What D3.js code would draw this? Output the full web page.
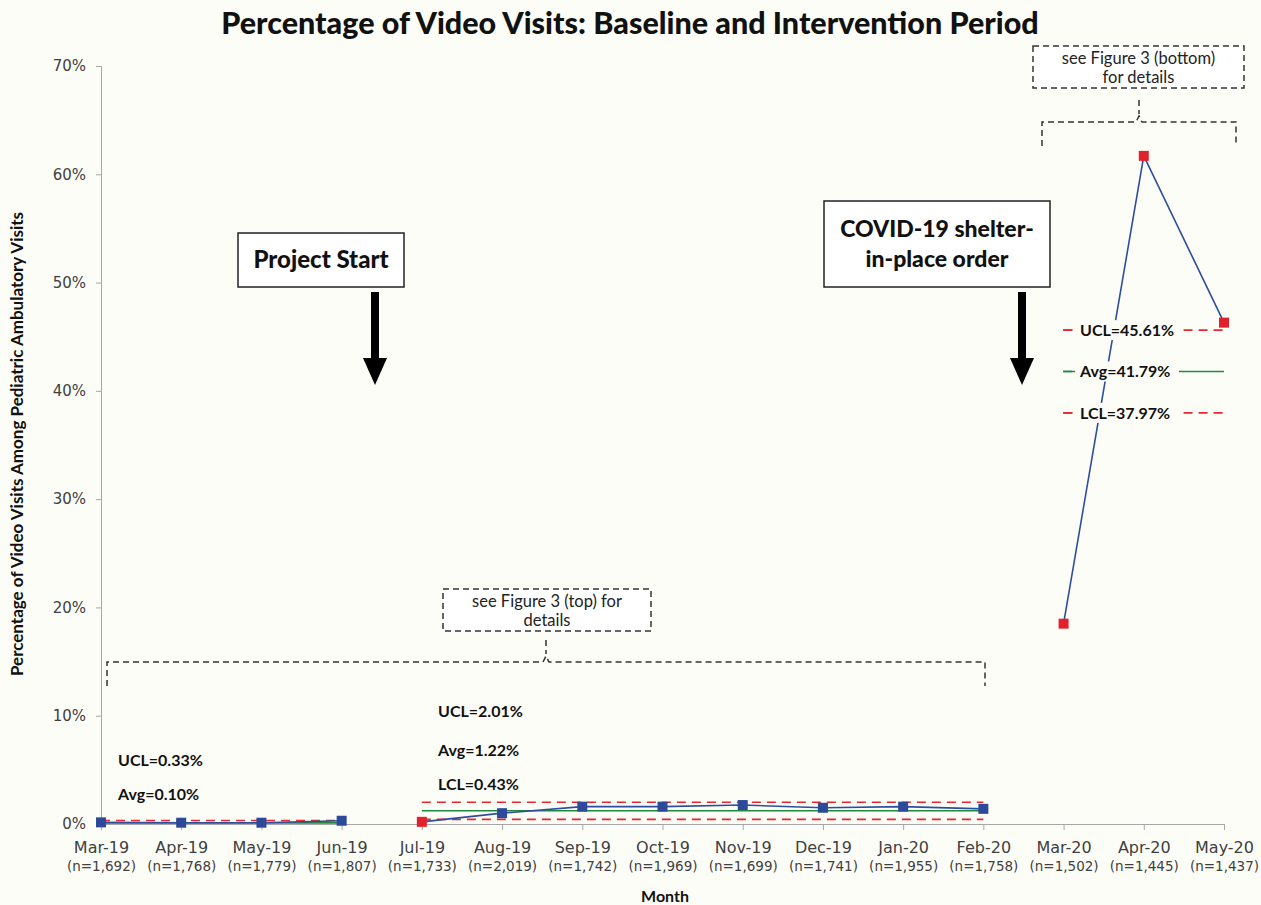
<!DOCTYPE html>
<html>
<head>
<meta charset="utf-8">
<script src="https://cdn.jsdelivr.net/npm/d3@7"></script>
<style>
  body { margin: 0; background: #fdfdf8; }
  svg { display: block; }
  .tick-y text { font-family: "DejaVu Sans", sans-serif; font-size: 15px; fill: #404040; }
  .lbl { font-family: Lato, sans-serif; font-weight: bold; font-size: 16px; fill: #111; }
</style>
</head>
<body>
<div class="chart"></div>
<script>
// months and sample sizes on the x axis
const months = ["Mar-19", "Apr-19", "May-19", "Jun-19", "Jul-19", "Aug-19", "Sep-19", "Oct-19",
  "Nov-19", "Dec-19", "Jan-20", "Feb-20", "Mar-20", "Apr-20", "May-20"];
const nLabels = ["(n=1,692)", "(n=1,768)", "(n=1,779)", "(n=1,807)", "(n=1,733)", "(n=2,019)",
  "(n=1,742)", "(n=1,969)", "(n=1,699)", "(n=1,741)", "(n=1,955)", "(n=1,758)", "(n=1,502)",
  "(n=1,445)", "(n=1,437)"];
// percent of video visits
const videoPct = [0.15, 0.12, 0.12, 0.3, 0.2, 1.0, 1.6, 1.6, 1.75, 1.5, 1.6, 1.4, 18.5, 61.7, 46.3];
// which segment each month belongs to (line breaks between segments)
const segment = [0, 0, 0, 0, 1, 1, 1, 1, 1, 1, 1, 1, 2, 2, 2];
// months flagged with red markers
const flagged = ["Jul-19", "Mar-20", "Apr-20", "May-20"];
const yTicks = [0, 10, 20, 30, 40, 50, 60, 70];

// control limits per period
const baselineLimits = { from: "Mar-19", to: "Jun-19", ucl: 0.33, avg: 0.10, lcl: null };
const interventionLimits = { from: "Jul-19", to: "Feb-20", ucl: 2.01, avg: 1.22, lcl: 0.43 };
const covidLimits = { from: "Mar-20", to: "May-20", ucl: 45.61, avg: 41.79, lcl: 37.97 };

const W = 1261, H = 905;
const margin = { left: 101, right: 37, top: 66, bottom: 81 };
const BG = "#fdfdf8";

const svg = d3.select(".chart").append("svg")
  .attr("width", W).attr("height", H)
  .style("background", BG);

const x = d3.scalePoint().domain(months).range([margin.left, W - margin.right]);
const y = d3.scaleLinear().domain([0, 70]).range([H - margin.bottom, margin.top]);

// title
svg.append("text")
  .attr("x", 630).attr("y", 34)
  .attr("text-anchor", "middle")
  .style("font-family", "Lato, sans-serif").style("font-weight", "900").style("font-size", "30.5px")
  .attr("fill", "#111")
  .text("Percentage of Video Visits: Baseline and Intervention Period");

// y axis
const yAxis = svg.append("g")
  .attr("class", "tick-y")
  .attr("transform", `translate(${margin.left},0)`)
  .call(d3.axisLeft(y).tickValues(yTicks).tickFormat(d => d + "%").tickSize(5).tickPadding(10));
yAxis.select(".domain").attr("stroke", "#a6a6a6");
yAxis.selectAll(".tick line").attr("stroke", "#a6a6a6");

svg.append("text")
  .attr("transform", `translate(23,${444}) rotate(-90)`)
  .attr("text-anchor", "middle")
  .style("font-family", "Lato, sans-serif").style("font-weight", "bold").style("font-size", "17px")
  .attr("fill", "#111")
  .text("Percentage of Video Visits Among Pediatric Ambulatory Visits");

// x axis
const xAxis = svg.append("g")
  .attr("transform", `translate(0,${y(0)})`)
  .call(d3.axisBottom(x).tickSize(6).tickFormat(""));
xAxis.select(".domain").attr("stroke", "#a6a6a6");
xAxis.selectAll(".tick line").attr("stroke", "#a6a6a6");
xAxis.selectAll(".tick").each(function (d, i) {
  const t = d3.select(this).append("text")
    .attr("text-anchor", "middle")
    .attr("fill", "#404040")
    .style("font-family", "'DejaVu Sans', sans-serif");
  t.append("tspan").attr("x", 0).attr("y", 29).style("font-size", "16px").text(d);
  t.append("tspan").attr("x", 0).attr("y", 47).style("font-size", "13.5px").text(nLabels[i]);
});

svg.append("text")
  .attr("x", 665).attr("y", 902)
  .attr("text-anchor", "middle")
  .style("font-family", "Lato, sans-serif").style("font-weight", "bold").style("font-size", "16px")
  .attr("fill", "#111")
  .text("Month");

// control limit lines
function limitLines(lim) {
  const g = svg.append("g");
  const x1 = x(lim.from), x2 = x(lim.to);
  [["ucl", "#e8262b", "9,6"], ["lcl", "#e8262b", "9,6"], ["avg", "#1e8a3c", null]].forEach(([k, c, dash]) => {
    if (lim[k] == null) return;
    g.append("line")
      .attr("x1", x1).attr("x2", x2)
      .attr("y1", y(lim[k])).attr("y2", y(lim[k]))
      .attr("stroke", c).attr("stroke-width", 1.6)
      .attr("stroke-dasharray", dash);
  });
  return g;
}
limitLines(baselineLimits);
limitLines(interventionLimits);
limitLines(covidLimits);

// data line by segment
const pts = months.map((m, i) => ({ m, v: videoPct[i], s: segment[i] }));
const line = d3.line().x(d => x(d.m)).y(d => y(d.v));
d3.groups(pts, d => d.s).forEach(([s, arr]) => {
  svg.append("path")
    .datum(arr)
    .attr("fill", "none")
    .attr("stroke", "#2d4ea0")
    .attr("stroke-width", 1.6)
    .attr("d", line);
});

// labels for COVID control limits, with background that cuts through lines
const covLbl = [
  { t: "UCL=45.61%", v: covidLimits.ucl, c: "#e8262b" },
  { t: "Avg=41.79%", v: covidLimits.avg, c: "#1e8a3c" },
  { t: "LCL=37.97%", v: covidLimits.lcl, c: "#e8262b" }
];
covLbl.forEach(d => {
  svg.append("rect")
    .attr("x", 1075).attr("y", y(d.v) - 10)
    .attr("width", 104).attr("height", 20)
    .attr("fill", BG);
  svg.append("line")
    .attr("x1", 1063).attr("x2", 1072)
    .attr("y1", y(d.v)).attr("y2", y(d.v))
    .attr("stroke", d.c).attr("stroke-width", 1.6);
  svg.append("text")
    .attr("class", "lbl")
    .attr("x", 1080).attr("y", y(d.v) + 6)
    .text(d.t);
});

// markers
svg.append("g").selectAll("rect")
  .data(pts)
  .join("rect")
  .attr("x", d => x(d.m) - 5).attr("y", d => y(d.v) - 5)
  .attr("width", 10).attr("height", 10)
  .attr("fill", d => flagged.includes(d.m) ? "#e3212b" : "#2d4a9a");

// text labels for the two earlier periods
const leftLbls = [
  { t: "UCL=0.33%", x: 118, y: 766 },
  { t: "Avg=0.10%", x: 118, y: 800 },
  { t: "UCL=2.01%", x: 438, y: 717 },
  { t: "Avg=1.22%", x: 438, y: 756 },
  { t: "LCL=0.43%", x: 438, y: 790 }
];
leftLbls.forEach(d => {
  svg.append("text").attr("class", "lbl").attr("x", d.x).attr("y", d.y).text(d.t);
});

// event boxes with arrows
function eventBox(bx, by, bw, bh, lines, ax, fs) {
  svg.append("rect")
    .attr("x", bx).attr("y", by).attr("width", bw).attr("height", bh)
    .attr("fill", "#fff").attr("stroke", "#222").attr("stroke-width", 1.5);
  const t = svg.append("text")
    .attr("text-anchor", "middle")
    .style("font-family", "Lato, sans-serif").style("font-weight", "900").style("font-size", fs + "px")
    .attr("fill", "#111");
  const lh = 30;
  const y0 = by + bh / 2 - (lines.length - 1) * lh / 2 + 8;
  lines.forEach((s, i) => t.append("tspan").attr("x", bx + bw / 2).attr("y", y0 + i * lh).text(s));
  svg.append("rect")
    .attr("x", ax - 4).attr("y", 292).attr("width", 8).attr("height", 68)
    .attr("fill", "#000");
  svg.append("path")
    .attr("d", `M${ax - 12},358 L${ax + 12},358 L${ax},385 Z`)
    .attr("fill", "#000");
}
eventBox(238, 233, 166, 54, ["Project Start"], 375, 24);
eventBox(824, 201, 226, 86, ["COVID-19 shelter-", "in-place order"], 1022, 23);

// dashed "see figure" notes with brackets
function noteBox(bx, by, bw, bh, lines) {
  svg.append("rect")
    .attr("x", bx).attr("y", by).attr("width", bw).attr("height", bh)
    .attr("fill", "#fff").attr("stroke", "#333").attr("stroke-width", 1.5)
    .attr("stroke-dasharray", "6,4");
  const t = svg.append("text")
    .attr("text-anchor", "middle")
    .style("font-family", "Lato, sans-serif").style("font-size", "16.5px")
    .attr("fill", "#222");
  lines.forEach((s, i) => t.append("tspan").attr("x", bx + bw / 2).attr("y", by + 18 + i * 19).text(s));
}
function bracket(x1, x2, xm, yTop, yEnd, stemTop) {
  svg.append("path")
    .attr("d", `M${x1},${yEnd} L${x1},${yTop} L${xm - 3},${yTop} L${xm},${yTop - 6} L${xm + 3},${yTop} L${x2},${yTop} L${x2},${yEnd}`)
    .attr("fill", "none").attr("stroke", "#333").attr("stroke-width", 1.5)
    .attr("stroke-dasharray", "6,4");
  svg.append("line")
    .attr("x1", xm).attr("x2", xm).attr("y1", stemTop).attr("y2", yTop - 8)
    .attr("stroke", "#333").attr("stroke-width", 1.5).attr("stroke-dasharray", "6,4");
}
noteBox(1033, 46, 211, 42, ["see Figure 3 (bottom)", "for details"]);
bracket(1042, 1236, 1139, 122, 146, 100);
noteBox(443, 589, 208, 42, ["see Figure 3 (top) for", "details"]);
bracket(107, 985, 546, 662, 686, 640);
</script>
</body>
</html>
